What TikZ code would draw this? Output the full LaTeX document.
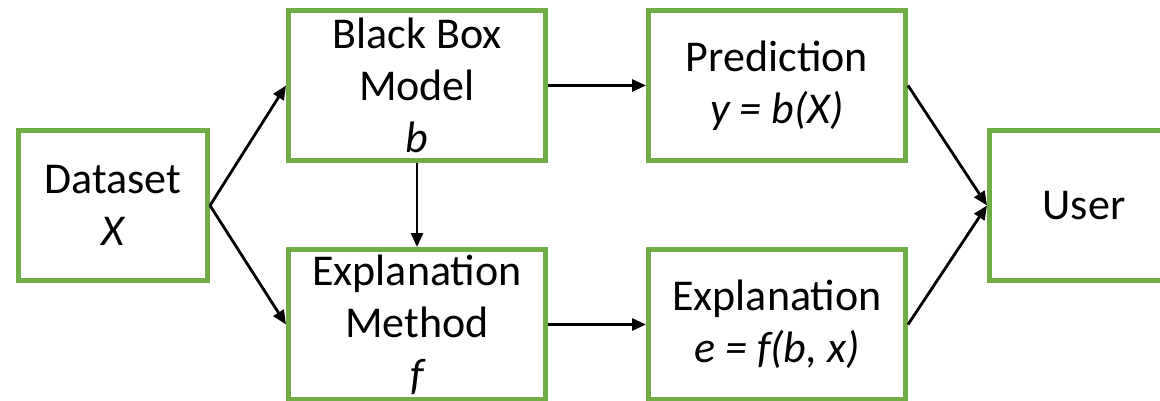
\documentclass[tikz,border=0pt]{standalone}
\usepackage{fontspec}
\setmainfont{Carlito}
\usetikzlibrary{positioning,arrows.meta}
\definecolor{boxgreen}{HTML}{70AD47}
\begin{document}
\begin{tikzpicture}[node distance={98pt}, x=1pt, y=1pt,
  main/.style = {draw=boxgreen, line width=5pt, rectangle, minimum width=257pt, minimum height=150pt, inner sep=0pt, align=center, font={\fontsize{44}{52}\selectfont}},
  side/.style = {main, minimum width=189pt},
  link/.style = {-{Triangle[length=14pt,width=12pt]}, line width=2.8pt}]
\useasboundingbox (0,0) rectangle (1160,-400);
\clip (0,0) rectangle (1160,-400);
\node[side] (data) at (113,-205.5) {Dataset\\\itshape X};
\node[main] (model) [right=76pt of data, yshift=120pt] {Black Box\\Model\\\itshape b};
\node[main] (method) [below=84pt of model] {Explanation\\Method\\\itshape f};
\node[main] (pred) [right=98pt of model] {Prediction\\\itshape y = b(X)};
\node[main] (expl) [right=98pt of method] {Explanation\\\itshape e = f(b, x)};
\node[side] (user) [right=79pt of pred, yshift=-120pt] {User};
\draw[link] (data.east) -- (model.west);
\draw[link] (data.east) -- (method.west);
\draw[link] (model) -- (method);
\draw[link] (model) -- (pred);
\draw[link] (method) -- (expl);
\draw[link] (pred.east) -- (user.west);
\draw[link] (expl.east) -- (user.west);
\end{tikzpicture}
\end{document}
